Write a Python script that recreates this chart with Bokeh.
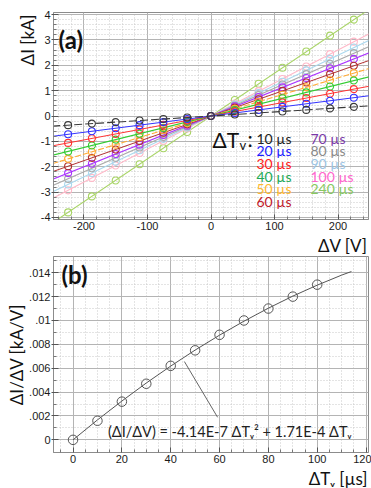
from math import pi
from bokeh.plotting import figure
from bokeh.models import Range1d, FixedTicker, Label, Title
from bokeh.layouts import column
from bokeh.embed import file_html
from bokeh.resources import INLINE

# ---------------- data: panel (a) ----------------
dV = [-225, -187.5, -150, -112.5, -75, -37.5, 0, 37.5, 75, 112.5, 150, 187.5, 225]
dT_names = ["10 µs", "20 µs", "30 µs", "40 µs", "50 µs", "60 µs",
            "70 µs", "80 µs", "90 µs", "100 µs", "240 µs"]
dI_10 = [-0.36, -0.30, -0.24, -0.18, -0.12, -0.06, 0, 0.06, 0.12, 0.18, 0.24, 0.30, 0.36]
dI_20 = [-0.72, -0.60, -0.48, -0.36, -0.24, -0.12, 0, 0.12, 0.24, 0.36, 0.48, 0.60, 0.72]
dI_30 = [-1.06, -0.88, -0.71, -0.53, -0.35, -0.18, 0, 0.18, 0.35, 0.53, 0.71, 0.88, 1.06]
dI_40 = [-1.40, -1.16, -0.93, -0.70, -0.47, -0.23, 0, 0.23, 0.47, 0.70, 0.93, 1.16, 1.40]
dI_50 = [-1.69, -1.41, -1.13, -0.84, -0.56, -0.28, 0, 0.28, 0.56, 0.84, 1.13, 1.41, 1.69]
dI_60 = [-1.98, -1.65, -1.32, -0.99, -0.66, -0.33, 0, 0.33, 0.66, 0.99, 1.32, 1.65, 1.98]
dI_70 = [-2.25, -1.88, -1.50, -1.13, -0.75, -0.38, 0, 0.38, 0.75, 1.13, 1.50, 1.88, 2.25]
dI_80 = [-2.48, -2.06, -1.65, -1.24, -0.83, -0.41, 0, 0.41, 0.83, 1.24, 1.65, 2.06, 2.48]
dI_90 = [-2.70, -2.25, -1.80, -1.35, -0.90, -0.45, 0, 0.45, 0.90, 1.35, 1.80, 2.25, 2.70]
dI_100 = [-2.93, -2.44, -1.95, -1.46, -0.98, -0.49, 0, 0.49, 0.98, 1.46, 1.95, 2.44, 2.93]
dI_240 = [-3.80, -3.17, -2.54, -1.90, -1.27, -0.63, 0, 0.63, 1.27, 1.90, 2.54, 3.17, 3.80]
dI_series = [dI_10, dI_20, dI_30, dI_40, dI_50, dI_60, dI_70, dI_80, dI_90, dI_100, dI_240]
# fitted lines: value of dI at the ends of the range (dV = -250 / +250)
fit_dV = [-250, 250]
fit_end = [0.40, 0.80, 1.18, 1.55, 1.88, 2.20, 2.50, 2.75, 3.00, 3.25, 4.22]

line_colors = ["#3a3a3a", "#3333ff", "#ff3333", "#33cc33", "#ffaa33", "#b03030",
               "#aa33ff", "#aaaaaa", "#aad8ee", "#ffb8c8", "#a8d466"]
text_colors = ["#222222", "#1a1aff", "#ff2020", "#22aa55", "#ffb830", "#c0202a",
               "#7a3aa8", "#8a8a8a", "#9cc4e4", "#ff66cc", "#88c860"]
line_dashes = ["8 3", "solid", "solid", "solid", "6 2", "solid",
               "solid", "solid", "solid", "solid", "solid"]

xa_ticks = [-200, -100, 0, 100, 200]
xa_minor = [-240, -220, -180, -160, -140, -120, -80, -60, -40, -20,
            20, 40, 60, 80, 120, 140, 160, 180, 220, 240]
xa_labels = ["-200", "-100", "0", "100", "200"]
ya_ticks = [-4, -3, -2, -1, 0, 1, 2, 3, 4]
ya_minor = [-3.8, -3.6, -3.4, -3.2, -2.8, -2.6, -2.4, -2.2, -1.8, -1.6, -1.4, -1.2,
            -0.8, -0.6, -0.4, -0.2, 0.2, 0.4, 0.6, 0.8, 1.2, 1.4, 1.6, 1.8,
            2.2, 2.4, 2.6, 2.8, 3.2, 3.4, 3.6, 3.8]
ya_labels = ["-4", "-3", "-2", "-1", "0", "1", "2", "3", "4"]

# ---------------- data: panel (b) ----------------
dTv = [0, 10, 20, 30, 40, 50, 60, 70, 80, 90, 100]
dIdV = [0.0, 0.0016, 0.0032, 0.0047, 0.0062, 0.0075, 0.0088, 0.0100, 0.0110, 0.0120, 0.0130]
fit_dTv = [0, 10, 20, 30, 40, 50, 60, 70, 80, 90, 100, 110, 114]
fit_dIdV = [0.0, 0.00167, 0.00325, 0.00476, 0.00618, 0.00752, 0.00877, 0.00994,
            0.01103, 0.01204, 0.01296, 0.01380, 0.01410]
leader_x = [45.6, 59.2]
leader_y = [0.00656, 0.00189]

xb_ticks = [0, 20, 40, 60, 80, 100, 120]
xb_minor = [-5, 5, 10, 15, 25, 30, 35, 45, 50, 55, 65, 70, 75, 85, 90, 95, 105, 110, 115]
xb_labels = ["0", "20", "40", "60", "80", "100", "120"]
yb_ticks = [0, 0.002, 0.004, 0.006, 0.008, 0.010, 0.012, 0.014]
yb_minor = [0.001, 0.003, 0.005, 0.007, 0.009, 0.011, 0.013, 0.015]
yb_labels = ["0", ".002", ".004", ".006", ".008", ".01", ".012", ".014"]

TICK_FONT = "Liberation Sans"
LABEL_FONT = "Lato"
FRAME_COL = "#8c8c8c"
INK = "#111111"


def style(p, xt, xm, xl, yt, ym, yl):
    p.xaxis.ticker = FixedTicker(ticks=xt, minor_ticks=xm)
    p.yaxis.ticker = FixedTicker(ticks=yt, minor_ticks=ym)
    p.xaxis.major_label_overrides = {t: s for t, s in zip(xt, xl)}
    p.yaxis.major_label_overrides = {t: s for t, s in zip(yt, yl)}
    for ax in (p.xaxis[0], p.yaxis[0]):
        ax.axis_line_color = FRAME_COL
        ax.major_tick_line_color = "#555555"
        ax.minor_tick_line_color = "#777777"
        ax.major_tick_in = 5
        ax.major_tick_out = 2
        ax.minor_tick_in = 3
        ax.minor_tick_out = 0
        ax.major_label_text_font = TICK_FONT
        ax.major_label_text_font_size = "11px"
        ax.major_label_text_color = "#1a1a1a"
        ax.major_label_standoff = 1
    p.xaxis.major_tick_out = 0
    p.xaxis.major_label_standoff = 2
    p.xgrid.grid_line_color = "#b4b4b4"
    p.ygrid.grid_line_color = "#b4b4b4"
    p.xgrid.minor_grid_line_color = "#c8c8c8"
    p.ygrid.minor_grid_line_color = "#c8c8c8"
    p.xgrid.minor_grid_line_dash = "1 2"
    p.ygrid.minor_grid_line_dash = "1 2"
    p.outline_line_color = FRAME_COL


def axis_title(text, align, offset):
    return Title(text=text, align=align, offset=offset, standoff=0,
                 text_font=LABEL_FONT, text_font_size="17px",
                 text_font_style="normal", text_color=INK)


# ---------------- panel (a) ----------------
pa = figure(width=371, height=255, output_backend="svg", toolbar_location=None,
            x_range=Range1d(-248, 248), y_range=Range1d(-4.08, 4.08),
            min_border_left=53, min_border_right=3, min_border_top=12, min_border_bottom=30)
style(pa, xa_ticks, xa_minor, xa_labels, ya_ticks, ya_minor, ya_labels)

for i in reversed(range(len(dI_series))):
    e = fit_end[i]
    pa.line(fit_dV, [-e, e], line_color=line_colors[i], line_width=1.1,
            line_dash=line_dashes[i])
    pa.scatter(dV, dI_series[i], marker="circle", size=7, fill_color=None,
               line_color=line_colors[i], line_width=1.1)

pa.add_layout(axis_title("ΔI [kA]", "right", 2), "left")
pa.add_layout(axis_title("ΔV [V]", "right", 1), "below")

pa.add_layout(Label(x=5, y=180, x_units="screen", y_units="screen", text="(a)",
                    text_font=LABEL_FONT, text_font_style="bold", text_font_size="24px",
                    text_baseline="middle", text_color=INK))
# legend header
pa.add_layout(Label(x=159, y=80.5, x_units="screen", y_units="screen", text="ΔT",
                    text_font=LABEL_FONT, text_font_size="21px",
                    text_baseline="middle", text_color=INK))
pa.add_layout(Label(x=186, y=75, x_units="screen", y_units="screen", text="v",
                    text_font=LABEL_FONT, text_font_size="13px",
                    text_baseline="middle", text_color=INK))
pa.add_layout(Label(x=194, y=81, x_units="screen", y_units="screen", text=":",
                    text_font=LABEL_FONT, text_font_size="21px",
                    text_baseline="middle", text_color=INK))
for i, name in enumerate(dT_names):
    col = 0 if i < 6 else 1
    row = i if i < 6 else i - 6
    pa.add_layout(Label(x=203 + col * 54, y=81.5 - row * 12.7, x_units="screen",
                        y_units="screen", text=name, text_font=LABEL_FONT,
                        text_font_size="14px", text_baseline="middle",
                        text_color=text_colors[i]))

# ---------------- panel (b) ----------------
pb = figure(width=371, height=233, output_backend="svg", toolbar_location=None,
            x_range=Range1d(-8, 121), y_range=Range1d(-0.00106, 0.01536),
            min_border_left=52, min_border_right=3, min_border_top=1, min_border_bottom=30)
style(pb, xb_ticks, xb_minor, xb_labels, yb_ticks, yb_minor, yb_labels)
pb.add_layout(axis_title("ΔI/ΔV [kA/V]", "center", 0), "left")
pb.add_layout(axis_title("ΔTᵥ [µs]", "right", 1), "below")

pb.line(fit_dTv, fit_dIdV, line_color="#555555", line_width=1)
pb.line(leader_x, leader_y, line_color="#666666", line_width=1)
pb.scatter(dTv, dIdV, marker="circle", size=9.5, fill_color=None,
           line_color="#555555", line_width=1)

pb.add_layout(Label(x=8, y=178, x_units="screen", y_units="screen", text="(b)",
                    text_font=LABEL_FONT, text_font_style="bold", text_font_size="24px",
                    text_baseline="middle", text_color=INK))
pb.add_layout(Label(x=14.3, y=0.00073, text="(ΔI/ΔV) = -4.14E-7 ΔTᵥ² + 1.71E-4 ΔTᵥ",
                    text_font=LABEL_FONT, text_font_size="14.5px",
                    text_baseline="middle", text_color="#222222"))

layout = column(pa, pb, spacing=0)
open("out.html", "w").write(file_html(layout, INLINE))
